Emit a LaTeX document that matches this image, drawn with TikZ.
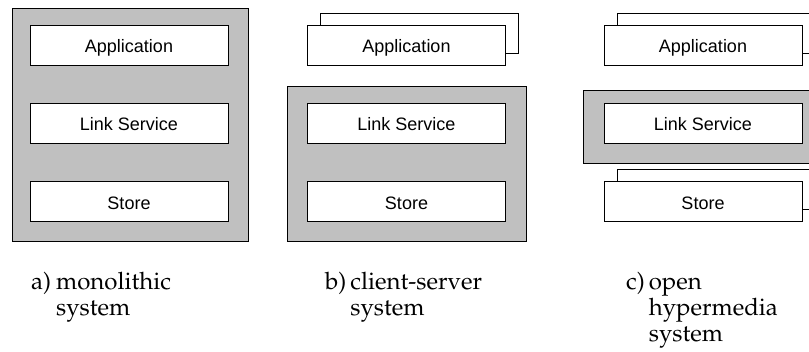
\documentclass[tikz,border=0pt]{standalone}
\usepackage{fontspec}
\usepackage[T1,TU]{fontenc}
\newfontfamily\layerfont{Liberation Sans}
\newcommand\captionfont{\fontencoding{T1}\fontfamily{ppl}\fontsize{24}{26}\selectfont}
\definecolor{panelgray}{RGB}{192,192,192}

\begin{document}
\begin{tikzpicture}[x=1pt, y=-1pt,
    panel/.style={draw=black, fill=panelgray, line width=0.9pt},
    layer/.style={draw=black, fill=white, line width=0.9pt, minimum width=198pt,
      minimum height=40pt, inner sep=0pt, text height=15.4pt, text depth=0pt,
      font=\layerfont\fontsize{18}{20}\selectfont},
    backlayer/.style={layer, shift={(13,-12)}},
    captiontext/.style={anchor=base west, inner sep=0pt, font=\captionfont}]
    % define variables.
    \def\xa{129}
    \def\xb{406.5}
    \def\xc{703}
    \useasboundingbox (0,0) rectangle (809,351);
    \clip (0,0) rectangle (809,351);
    % draw the panels
    \filldraw[panel] (12,8) rectangle (248,241);
    \filldraw[panel] (287,86) rectangle (526,241);
    \filldraw[panel] (583,90) rectangle (840,163);
    % a) monolithic system
    \node[layer] (appa) at (\xa,45) {Application};
    \node[layer] (linka) at (\xa,123) {Link Service};
    \node[layer] (storea) at (\xa,201.5) {Store};
    % b) client-server system
    \node[backlayer] (appbback) at (\xb,45) {};
    \node[layer] (appb) at (\xb,45) {Application};
    \node[layer] (linkb) at (\xb,123) {Link Service};
    \node[layer] (storeb) at (\xb,201.5) {Store};
    % c) open hypermedia system
    \node[backlayer] (appcback) at (\xc,45) {};
    \node[layer] (appc) at (\xc,45) {Application};
    \node[layer] (linkc) at (\xc,123) {Link Service};
    \node[backlayer] (storecback) at (\xc,201.5) {};
    \node[layer] (storec) at (\xc,201.5) {Store};
    % captions
    \node[captiontext] (capa) at (31,289)
      {\begin{tabular}[t]{@{}l@{\hspace{5pt}}l@{}}a) & monolithic\\ & system\end{tabular}};
    \node[captiontext] (capb) at (325,289)
      {\begin{tabular}[t]{@{}l@{\hspace{4pt}}l@{}}b) & client-server\\ & system\end{tabular}};
    \node[captiontext] (capc) at (626,289)
      {\begin{tabular}[t]{@{}l@{\hspace{4pt}}l@{}}c) & open\\ & hypermedia\\ & system\end{tabular}};
\end{tikzpicture}
\end{document}
